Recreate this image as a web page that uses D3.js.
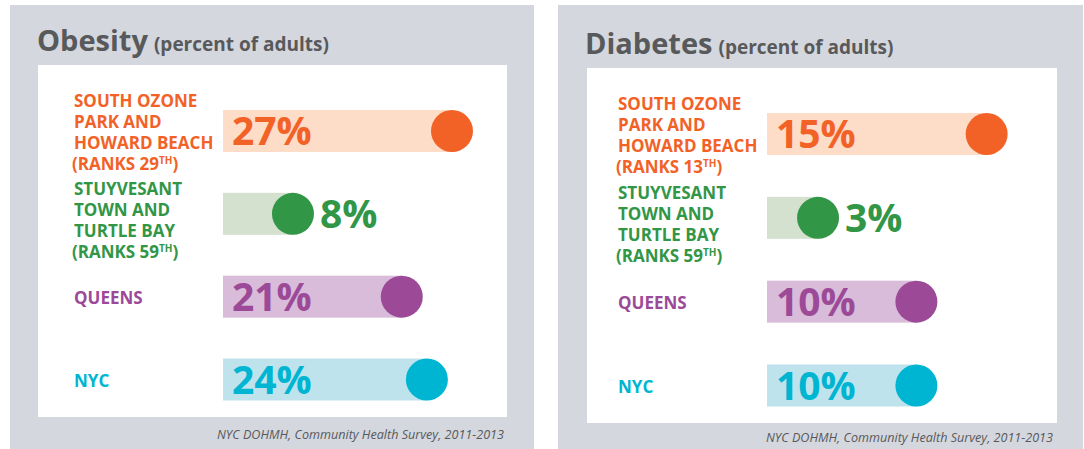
<!DOCTYPE html>
<html>
<head>
<meta charset="utf-8">
<script src="https://cdn.jsdelivr.net/npm/d3@7"></script>
<style>
  body { margin: 0; background: #fff; }
  svg { display: block; font-family: "Open Sans", "Noto Sans", sans-serif; }
</style>
</head>
<body>
<svg id="chart" width="1084" height="449"></svg>
<script>
// data
const labelLines = [
  ["SOUTH OZONE", "PARK AND", "HOWARD BEACH"],
  ["STUYVESANT", "TOWN AND", "TURTLE BAY"],
  ["QUEENS"],
  ["NYC"]
];
const obesityValues = [27, 8, 21, 24];
const obesityRanks = [29, 59, null, null];
const diabetesValues = [15, 3, 10, 10];
const diabetesRanks = [13, 59, null, null];
const source = "NYC DOHMH, Community Health Survey, 2011-2013";

const DARK = ["#f26227", "#319646", "#9c4a97", "#00b5d1"];
const LIGHT = ["#fddcc8", "#d4e1cf", "#d8bcd9", "#bfe3ed"];
const GREY_BG = "#d4d7de";
const TEXT_GREY = "#58595b";
const R = 21;
const LH = 21;
// the second label sits a little lower than its bar
const LABEL_NUDGE = [0, 6, 0, 0];

const svg = d3.select("#chart");

// panel layout
const panels = [
  { title: "Obesity", values: obesityValues, ranks: obesityRanks,
    bg: [10, 5, 524, 450], box: [38, 65, 469, 352], titleX: 37, titleY: 51,
    labelX: 74, barX: 223, rows: [131, 379.5], xr: [226, 477.1], srcX: 504, srcY: 439 },
  { title: "Diabetes", values: diabetesValues, ranks: diabetesRanks,
    bg: [558, 5, 525, 450], box: [587, 68, 470, 355], titleX: 585, titleY: 54,
    labelX: 618, barX: 767, rows: [134, 385.5], xr: [775.9, 1197.4], srcX: 1053, srcY: 442 }
];

panels.forEach(p => {
  const g = svg.append("g");
  g.append("rect").attr("x", p.bg[0]).attr("y", p.bg[1])
    .attr("width", p.bg[2]).attr("height", p.bg[3]).attr("fill", GREY_BG);
  g.append("rect").attr("x", p.box[0]).attr("y", p.box[1])
    .attr("width", p.box[2]).attr("height", p.box[3]).attr("fill", "#fff");

  const title = g.append("text").attr("x", p.titleX).attr("y", p.titleY)
    .attr("fill", TEXT_GREY).attr("font-weight", 700);
  title.append("tspan").attr("font-size", 29).text(p.title);
  title.append("tspan").attr("font-size", 19).attr("dx", 6).text("(percent of adults)");

  g.append("text").attr("x", p.srcX).attr("y", p.srcY)
    .attr("text-anchor", "end").attr("font-style", "italic").attr("font-size", 13.5)
    .attr("fill", TEXT_GREY)
    .attr("textLength", 287).attr("lengthAdjust", "spacingAndGlyphs")
    .text(source);

  const idx = d3.range(p.values.length);
  const x = d3.scaleLinear().domain([0, 30]).range(p.xr);
  const y = d3.scalePoint().domain(idx).range(p.rows);

  const row = g.selectAll(".row").data(idx).enter().append("g")
    .attr("class", "row")
    .attr("transform", i => `translate(0,${y(i)})`);

  row.append("rect")
    .attr("x", p.barX).attr("y", -R)
    .attr("width", i => x(p.values[i]) - p.barX).attr("height", 2 * R)
    .attr("fill", i => LIGHT[i]);

  row.append("circle")
    .attr("cx", i => x(p.values[i])).attr("cy", 0).attr("r", R)
    .attr("fill", i => DARK[i]);

  row.append("text")
    .attr("x", i => (x(p.values[i]) - R - p.barX > 100) ? p.barX + 9 : x(p.values[i]) + R + 6)
    .attr("y", 14)
    .attr("font-size", 39).attr("font-weight", 700)
    .attr("fill", i => DARK[i])
    .text(i => p.values[i] + "%");

  // category labels
  row.each(function(i) {
    const lines = labelLines[i];
    const rank = p.ranks[i];
    const n = lines.length + (rank ? 1 : 0);
    const first = 7 + LABEL_NUDGE[i] - (n - 1) / 2 * LH;
    const t = d3.select(this).append("text")
      .attr("font-size", 17).attr("font-weight", 700).attr("fill", DARK[i]);
    lines.forEach((l, k) => {
      t.append("tspan").attr("x", p.labelX).attr("y", first + k * LH).text(l);
    });
    if (rank) {
      const ry = first + lines.length * LH;
      t.append("tspan").attr("x", p.labelX - 2).attr("y", ry).text("(RANKS " + rank);
      t.append("tspan").attr("font-size", 10).attr("dy", -6).text("TH");
      t.append("tspan").attr("dy", 6).text(")");
    }
  });
});
</script>
</body>
</html>
